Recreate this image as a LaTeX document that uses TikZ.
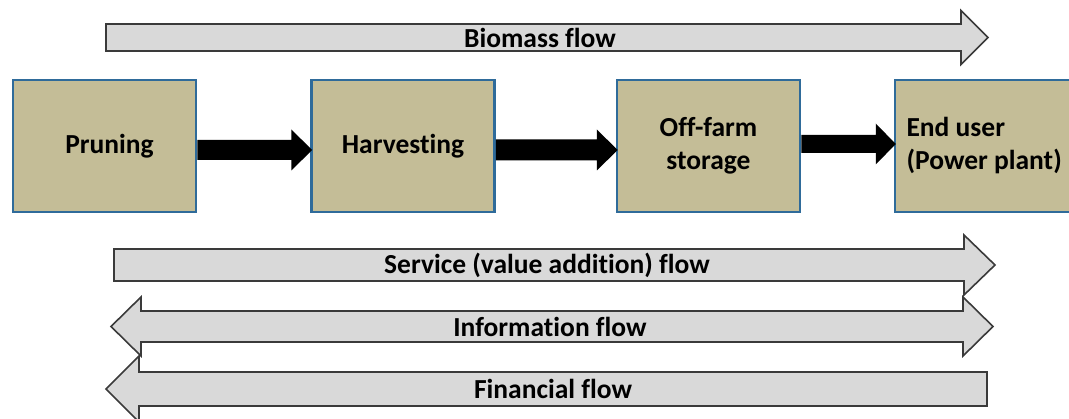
\documentclass[tikz,border=0pt]{standalone}
\usepackage{fontspec}
\setmainfont[RawFeature={-liga}]{Carlito}
\usetikzlibrary{calc}
\definecolor{boxfill}{HTML}{C4BD97}
\definecolor{boxline}{HTML}{2F6B9A}
\definecolor{flowfill}{HTML}{D9D9D9}
\definecolor{flowline}{HTML}{3A3A3A}
\newcommand\pusharrow[6]{% from, to, y offset, body half, head half, head length
  \fill[push] ($(#1.east)+(0,{#3-#4})$) -- ($(#2.west)+({2-#6},{#3-#4})$)
    -- ($(#2.west)+({2-#6},{#3-#5})$) -- ($(#2.west)+(2,#3)$)
    -- ($(#2.west)+({2-#6},{#3+#5})$) -- ($(#2.west)+({2-#6},{#3+#4})$)
    -- ($(#1.east)+(0,{#3+#4})$) -- cycle;}
\begin{document}
\begin{tikzpicture}[x=1pt,y=-1pt,
  txt/.style={font=\fontsize{27.5}{33}\selectfont\bfseries},
  stage/.style={txt, draw=boxline, line width=2.5pt, fill=boxfill,
    minimum width=183pt, minimum height=132pt, inner sep=0pt, align=center},
  flow/.style={draw=flowline, line width=1.6pt, fill=flowfill, line join=miter},
  flowlabel/.style={txt, inner sep=0pt},
  push/.style={fill=black}]
\path[use as bounding box] (0,0) rectangle (1069,419);
\clip (0,0) rectangle (1069,419);

% stages
\node[stage] (prun) at (104.5,146) {\hspace*{10pt}Pruning};
\node[stage] (harv) at (403,146) {Harvesting};
\node[stage] (stor) at (708.5,146) {Off-farm\\storage};
\node[stage, text width=160pt, align=flush left] (user) at (986.5,146) {End user\\(Power plant)};

% biomass push arrows
\pusharrow{prun}{harv}{4}{10}{20.5}{21}
\pusharrow{harv}{stor}{4}{10.5}{20.5}{21}
\pusharrow{stor}{user}{-2}{9}{20.5}{20}

% flows
\draw[flow] (106,24) -- (961,24) -- (961,10.5) -- (988,37.5) -- (961,64.5) -- (961,51) -- (106,51) -- cycle;
\node[flowlabel] (biomass) at (540,37.5) {Biomass flow};

\draw[flow] (114,249) -- (964,249) -- (964,235) -- (995,265) -- (964,295) -- (964,281) -- (114,281) -- cycle;
\node[flowlabel] (service) at (547,265) {Service (value addition) flow};

\draw[flow] (141,311) -- (963,311) -- (963,297) -- (993,326.5) -- (963,356) -- (963,342) -- (141,342) -- (141,356) -- (111,326.5) -- (141,297) -- cycle;
\node[flowlabel] (info) at (550,326.5) {Information flow};

\draw[flow] (987,372) -- (987,406) -- (139,406) -- (139,422) -- (106,389) -- (139,356) -- (139,372) -- cycle;
\node[flowlabel] (fin) at (553,389) {Financial flow};
\end{tikzpicture}
\end{document}
